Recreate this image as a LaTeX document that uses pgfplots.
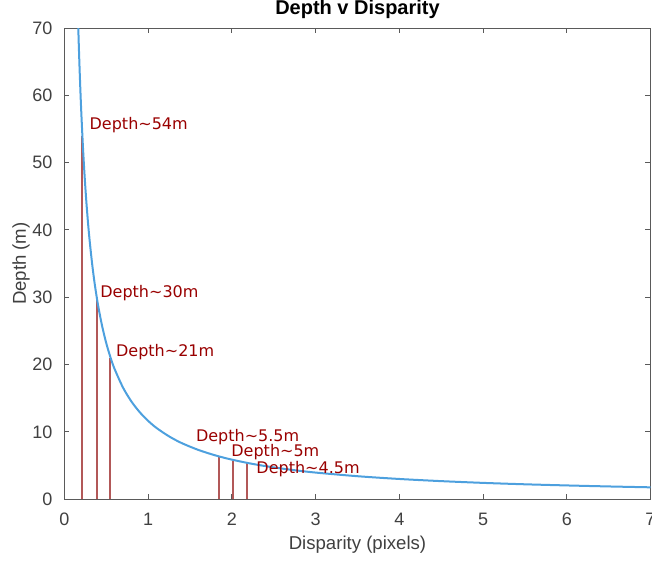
\documentclass[border=0pt]{standalone}
\usepackage{fontspec}
\setmainfont{Liberation Sans}
\newfontfamily\annfont{DejaVu Sans}
\usepackage{pgfplots}
\pgfplotsset{compat=1.18}

\definecolor{curveblue}{RGB}{77,160,222}
\definecolor{stemred}{RGB}{178,88,88}
\definecolor{txtred}{RGB}{153,0,0}
\definecolor{axgray}{RGB}{90,90,90}
\definecolor{lblgray}{RGB}{64,64,64}

\begin{document}
\begin{tikzpicture}
\begin{axis}[
    name=ax,
    scale only axis,
    width=293pt, height=235.65pt,
    xmin=0, xmax=7, ymin=0, ymax=70,
    xtick={0,1,...,7}, ytick={0,10,...,70},
    tick align=inside,
    major tick length=2.5pt,
    axis line style={axgray, line width=0.5pt},
    tick style={axgray, line width=0.5pt},
    tick label style={font=\fontsize{9}{10}\selectfont, text=lblgray},
    /pgf/number format/assume math mode=true,
    xticklabel style={yshift=-3.5pt},
    yticklabel style={xshift=-2.5pt},
    every axis title shift=0pt,
    title={\textbf{Depth v Disparity}},
    title style={font=\fontsize{10}{12}\selectfont, at={(axis description cs:0.5,1.0399)}, anchor=center},
    xlabel={Disparity (pixels)},
    ylabel={Depth (m)},
    label style={font=\fontsize{9.3}{11}\selectfont, text=lblgray},
    xlabel style={at={(axis description cs:0.5,-0.0972)}, anchor=center},
    ylabel style={at={(axis description cs:-0.0741,0.5)}, anchor=center},
]
% depth markers
\addplot[ycomb, draw=stemred, line width=1pt] coordinates {
    (0.205,54) (0.385,30) (0.544,21) (1.842,6.24) (2.013,5.74) (2.184,5.35)
};
% depth vs disparity curve
\addplot[curveblue, line width=1pt, smooth] coordinates {
    (0.16,72.02) (0.17,67.79) (0.18,64.03) (0.19,60.67) (0.2,57.64)
    (0.22,52.41) (0.24,48.06) (0.26,44.37) (0.28,41.21) (0.3,38.47)
    (0.33,34.99) (0.36,32.08) (0.4,28.89) (0.45,25.70) (0.5,23.14)
    (0.55,21.05) (0.6,19.31) (0.7,16.57) (0.8,14.52) (0.9,12.92)
    (1.0,11.64) (1.1,10.59) (1.25,9.34) (1.4,8.35) (1.6,7.33)
    (1.8,6.53) (2.0,5.89) (2.25,5.25) (2.5,4.74) (2.75,4.32)
    (3.0,3.97) (3.5,3.43) (4.0,3.02) (4.5,2.70) (5.0,2.44)
    (5.5,2.23) (6.0,2.06) (6.5,1.91) (7.0,1.78)
};
\begin{scope}[every node/.style={anchor=west, inner sep=0pt, text=txtred, font=\annfont\fontsize{8}{9}\selectfont}]
\node at (axis cs:0.296,55.6) {Depth\textasciitilde54m};
\node at (axis cs:0.424,30.6) {Depth\textasciitilde30m};
\node at (axis cs:0.612,21.9) {Depth\textasciitilde21m};
\node at (axis cs:1.567,9.2) {Depth\textasciitilde5.5m};
\node at (axis cs:1.989,7.0) {Depth\textasciitilde5m};
\node at (axis cs:2.288,4.5) {Depth\textasciitilde4.5m};
\end{scope}
\end{axis}
\pgfresetboundingbox
\path (ax.south west) ++(-32.25pt,-31.85pt) rectangle ++(326pt,281.5pt);
\end{tikzpicture}
\end{document}
